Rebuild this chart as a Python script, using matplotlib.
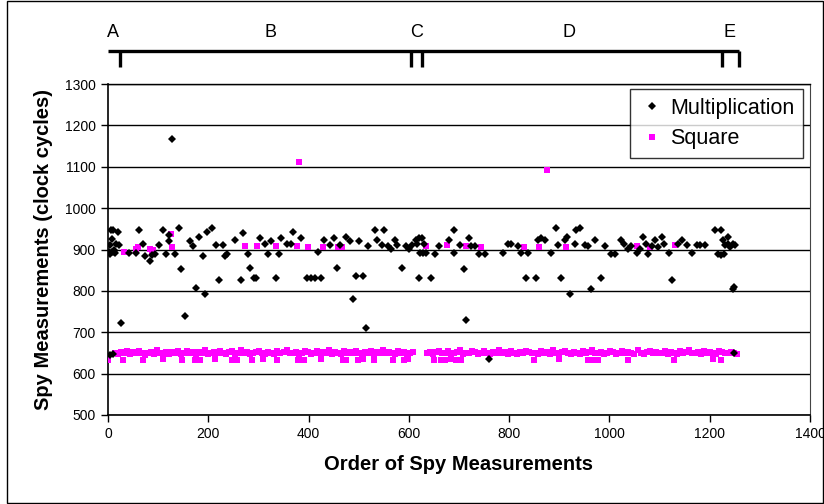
import matplotlib
matplotlib.use("Agg")
import matplotlib.pyplot as plt
import matplotlib.transforms as mtransforms
from matplotlib.patches import Rectangle

plt.rcParams["font.family"] = ["Liberation Sans", "DejaVu Sans"]

# multiplication measurements (order, clock cycles)
mult_x = [2, 3, 4, 5, 7, 7, 9, 11, 12, 14, 16, 19, 21, 25,
          41, 55, 61, 69, 74, 83, 87, 94, 101, 109, 116, 121, 122, 127, 133, 141,
          146, 154, 164, 169, 175, 181, 189, 194, 197, 207, 216, 221, 229, 234, 237,
          253, 266, 269, 279, 284, 291, 295, 304, 314, 319, 325, 335, 341, 346, 357,
          364, 369, 384, 397, 404, 412, 418, 425, 431, 442, 451, 457, 462, 474, 483,
          489, 495, 501, 509, 514, 519, 533, 537, 546, 551, 559, 564, 573, 577, 586,
          594, 601, 607, 614, 617, 621, 621, 623, 627, 629, 631, 634, 644, 653, 661,
          681, 691, 691, 701, 709, 713, 719, 723, 731, 739, 751, 787, 797, 804, 817,
          824, 834, 837, 854, 857, 864, 871, 884, 894, 897, 904, 911, 916, 922, 931,
          934, 941, 951, 957, 963, 971, 983, 991, 1004, 1011, 1024, 1029, 1037, 1044,
          1054, 1061, 1066, 1072, 1077, 1084, 1091, 1096, 1104, 1109, 1119, 1124,
          1136, 1145, 1154, 1164, 1174, 1181, 1191, 1211, 1217, 1223, 1223, 1227,
          1229, 1231, 1236, 1237, 1241, 1246, 1247, 1249, 1251,
          4, 10, 760, 1248]
mult_y = [894, 912, 890, 947, 926, 894, 947, 900, 895, 892, 913, 943, 910, 723,
          892, 892, 947, 914, 885, 872, 886, 889, 911, 947, 889, 920, 934, 1166, 889, 953,
          852, 739, 920, 908, 807, 930, 884, 793, 943, 953, 911, 826, 911, 884, 890,
          922, 826, 940, 889, 855, 830, 830, 927, 914, 889, 920, 830, 889, 927, 914,
          914, 943, 927, 830, 830, 830, 893, 830, 922, 911, 927, 855, 911, 930, 920,
          781, 836, 920, 836, 710, 908, 947, 924, 911, 947, 908, 902, 924, 911, 855,
          908, 902, 911, 924, 914, 927, 830, 892, 927, 892, 914, 892, 830, 889, 908,
          922, 947, 892, 910, 852, 730, 927, 908, 908, 890, 890, 892, 914, 914, 908,
          892, 830, 892, 830, 922, 927, 924, 892, 953, 911, 830, 922, 930, 793, 914,
          947, 953, 911, 908, 804, 924, 830, 908, 890, 890, 922, 914, 902, 908,
          892, 902, 930, 914, 890, 908, 924, 906, 930, 914, 892, 826,
          914, 922, 911, 892, 911, 911, 911, 947, 890, 947, 886, 924,
          890, 910, 914, 930, 906, 804, 914, 809, 911,
          645, 648, 636, 650]

# square measurements near the multiplication level
sq_hi_x = [31, 55, 59, 83, 87, 89, 126, 127, 274, 297, 335, 377, 381, 399, 429,
           459, 467, 634, 676, 714, 743, 829, 859, 876, 913, 1054, 1081, 1131]
sq_hi_y = [894, 902, 906, 902, 894, 898, 937, 906, 908, 908, 908, 908, 1112, 905, 905,
           906, 905, 908, 910, 908, 905, 906, 906, 1093, 906, 908, 906, 910]

# square measurements, main band
sq_band_x = [14, 20, 26, 32, 38, 44, 50, 56, 62, 68, 74, 80, 86, 92, 98, 104, 110, 116, 122, 128,
             134, 140, 146, 152, 158, 164, 170, 176, 182, 188, 194, 200, 206, 212, 218, 224, 230, 236, 242, 248,
             254, 260, 266, 272, 278, 284, 290, 296, 302, 308, 314, 320, 326, 332, 338, 344, 350, 356, 362, 368,
             374, 380, 386, 392, 398, 404, 410, 416, 422, 428, 434, 440, 446, 452, 458, 464, 470, 476, 482, 488,
             494, 500, 506, 512, 518, 524, 530, 536, 542, 548, 554, 560, 566, 572, 578, 584, 590, 596, 602, 608,
             636, 642, 648, 654, 660, 666, 672, 678, 684, 690, 696, 702, 708, 714, 720, 726, 732, 738, 744, 750,
             756, 762, 768, 774, 780, 786, 792, 798, 804, 810, 816, 822, 828, 834, 840, 846, 852, 858, 864, 870,
             876, 882, 888, 894, 900, 906, 912, 918, 924, 930, 936, 942, 948, 954, 960, 966, 972, 978, 984, 990,
             996, 1002, 1008, 1014, 1020, 1026, 1032, 1038, 1044, 1050, 1056, 1062, 1068, 1074, 1080, 1086, 1092, 1098, 1104, 1110,
             1116, 1122, 1128, 1134, 1140, 1146, 1152, 1158, 1164, 1170, 1176, 1182, 1188, 1194, 1200, 1206, 1212, 1218, 1224, 1230,
             1236, 1242, 1248, 1254]
sq_band_y = [651, 648, 653, 650, 655, 647, 652, 649, 654, 651, 646, 650, 653, 648, 656, 651, 649, 653, 647, 652,
             650, 655, 648, 651, 654, 649, 652, 647, 653, 650, 656, 648, 651, 653, 649, 655, 650, 647, 652, 654,
             648, 651, 656, 650, 653, 647, 649, 652, 655, 650, 648, 653, 651, 647, 654, 650, 652, 656, 649, 651,
             653, 648, 650, 655, 652, 647, 651, 654, 649, 653, 650, 656, 648, 652, 651, 647, 654, 650, 653, 649,
             655, 651, 648, 652, 650, 654, 647, 653, 651, 656, 649, 652, 650, 648, 654, 651, 653, 647, 650, 652,
             650, 653, 648, 652, 655, 649, 651, 654, 647, 650, 653, 656, 648, 651, 649, 654, 652, 647, 650, 655,
             651, 648, 653, 650, 656, 649, 652, 647, 654, 651, 648, 653, 650, 655, 652, 649, 651, 647, 654, 650,
             653, 648, 656, 651, 649, 652, 655, 650, 647, 653, 651, 648, 654, 650, 652, 656, 649, 651, 653, 647,
             650, 655, 652, 648, 651, 654, 649, 653, 650, 647, 656, 651, 648, 652, 654, 650, 653, 649, 651, 655,
             648, 652, 650, 647, 654, 651, 653, 656, 649, 650, 652, 648, 655, 651, 653, 650, 647, 654, 652, 649,
             651, 653, 650, 648]

# square measurements, sparse lower row
sq_lo_x = [0, 30, 70, 110, 148, 174, 184, 214, 248, 258, 288, 310, 338, 378, 390, 424, 468, 474,
           498, 508, 530, 568, 590, 598, 650, 664, 672, 684, 694, 704, 850, 900, 958, 968, 978,
           1038, 1128, 1206, 1222]
sq_lo_y = [632, 634, 633, 635, 632, 634, 633, 635, 633, 634, 632, 635, 633, 634, 632, 635, 633, 634,
           632, 635, 633, 634, 632, 635, 633, 634, 632, 635, 633, 634, 632, 635, 633, 634, 632,
           634, 633, 635, 632]

# bracket of phases above the plot
phase_ticks = [24, 605, 627, 1225, 1259]
phase_labels = ["A", "B", "C", "D", "E"]
phase_label_x = [10, 325, 616, 919, 1240]

MAGENTA = "#FF00FF"

fig = plt.figure(figsize=(8.24, 5.04), dpi=100)
ax = fig.add_axes([108 / 824, 89 / 504, 702 / 824, 331 / 504])

ax.plot(sq_band_x + sq_lo_x + sq_hi_x, sq_band_y + sq_lo_y + sq_hi_y,
        linestyle="none", marker="s", ms=3.9, mec=MAGENTA, mfc=MAGENTA, mew=0,
        label="Square", zorder=3)
ax.plot(mult_x, mult_y, linestyle="none", marker="D", ms=3.7, color="black",
        mew=0, label="Multiplication", zorder=4)

ax.set_xlim(0, 1400)
ax.set_ylim(500, 1300)
ax.set_xticks(range(0, 1401, 200))
ax.set_yticks(range(500, 1301, 100))
ax.grid(axis="y", color="black", lw=1.0)
ax.set_axisbelow(True)
ax.tick_params(direction="out", length=5, width=1, labelsize=10, pad=4)
for s in ["left", "bottom"]:
    ax.spines[s].set_linewidth(1.2)
ax.spines["right"].set_color("#444444")
ax.spines["top"].set_linewidth(1.0)

ax.set_xlabel("Order of Spy Measurements", fontsize=14.5, fontweight="bold", labelpad=10)
ax.set_ylabel("Spy Measurements (clock cycles)", fontsize=14.5, fontweight="bold", labelpad=8)

h, l = ax.get_legend_handles_labels()
leg = ax.legend(h[::-1], l[::-1], loc="upper right", bbox_to_anchor=(0.99, 0.985),
                borderaxespad=0, fontsize=15.5, frameon=True, fancybox=False,
                handlelength=1.2, handletextpad=0.25, borderpad=0.4, labelspacing=0.45,
                markerscale=1.0)
leg.get_frame().set_edgecolor("black")
leg.get_frame().set_linewidth(1.0)

# phase bracket
trans = mtransforms.blended_transform_factory(ax.transData, ax.transAxes)
ax.plot([0, phase_ticks[-1]], [1.10, 1.10], transform=trans, clip_on=False,
        color="black", lw=2.4, solid_capstyle="butt")
for bx in phase_ticks:
    ax.plot([bx, bx], [1.10, 1.05], transform=trans, clip_on=False,
            color="black", lw=2.4, solid_capstyle="butt")
for lx, lab in zip(phase_label_x, phase_labels):
    ax.text(lx, 1.155, lab, transform=trans, ha="center", va="center", fontsize=13)

# outer frame of the chart object
fig.add_artist(Rectangle((6.5 / 824, 1.0 / 504), 816.5 / 824, 502 / 504,
                         transform=fig.transFigure, fill=False, ec="black", lw=1.0))

fig.savefig("out.png", dpi=100)
